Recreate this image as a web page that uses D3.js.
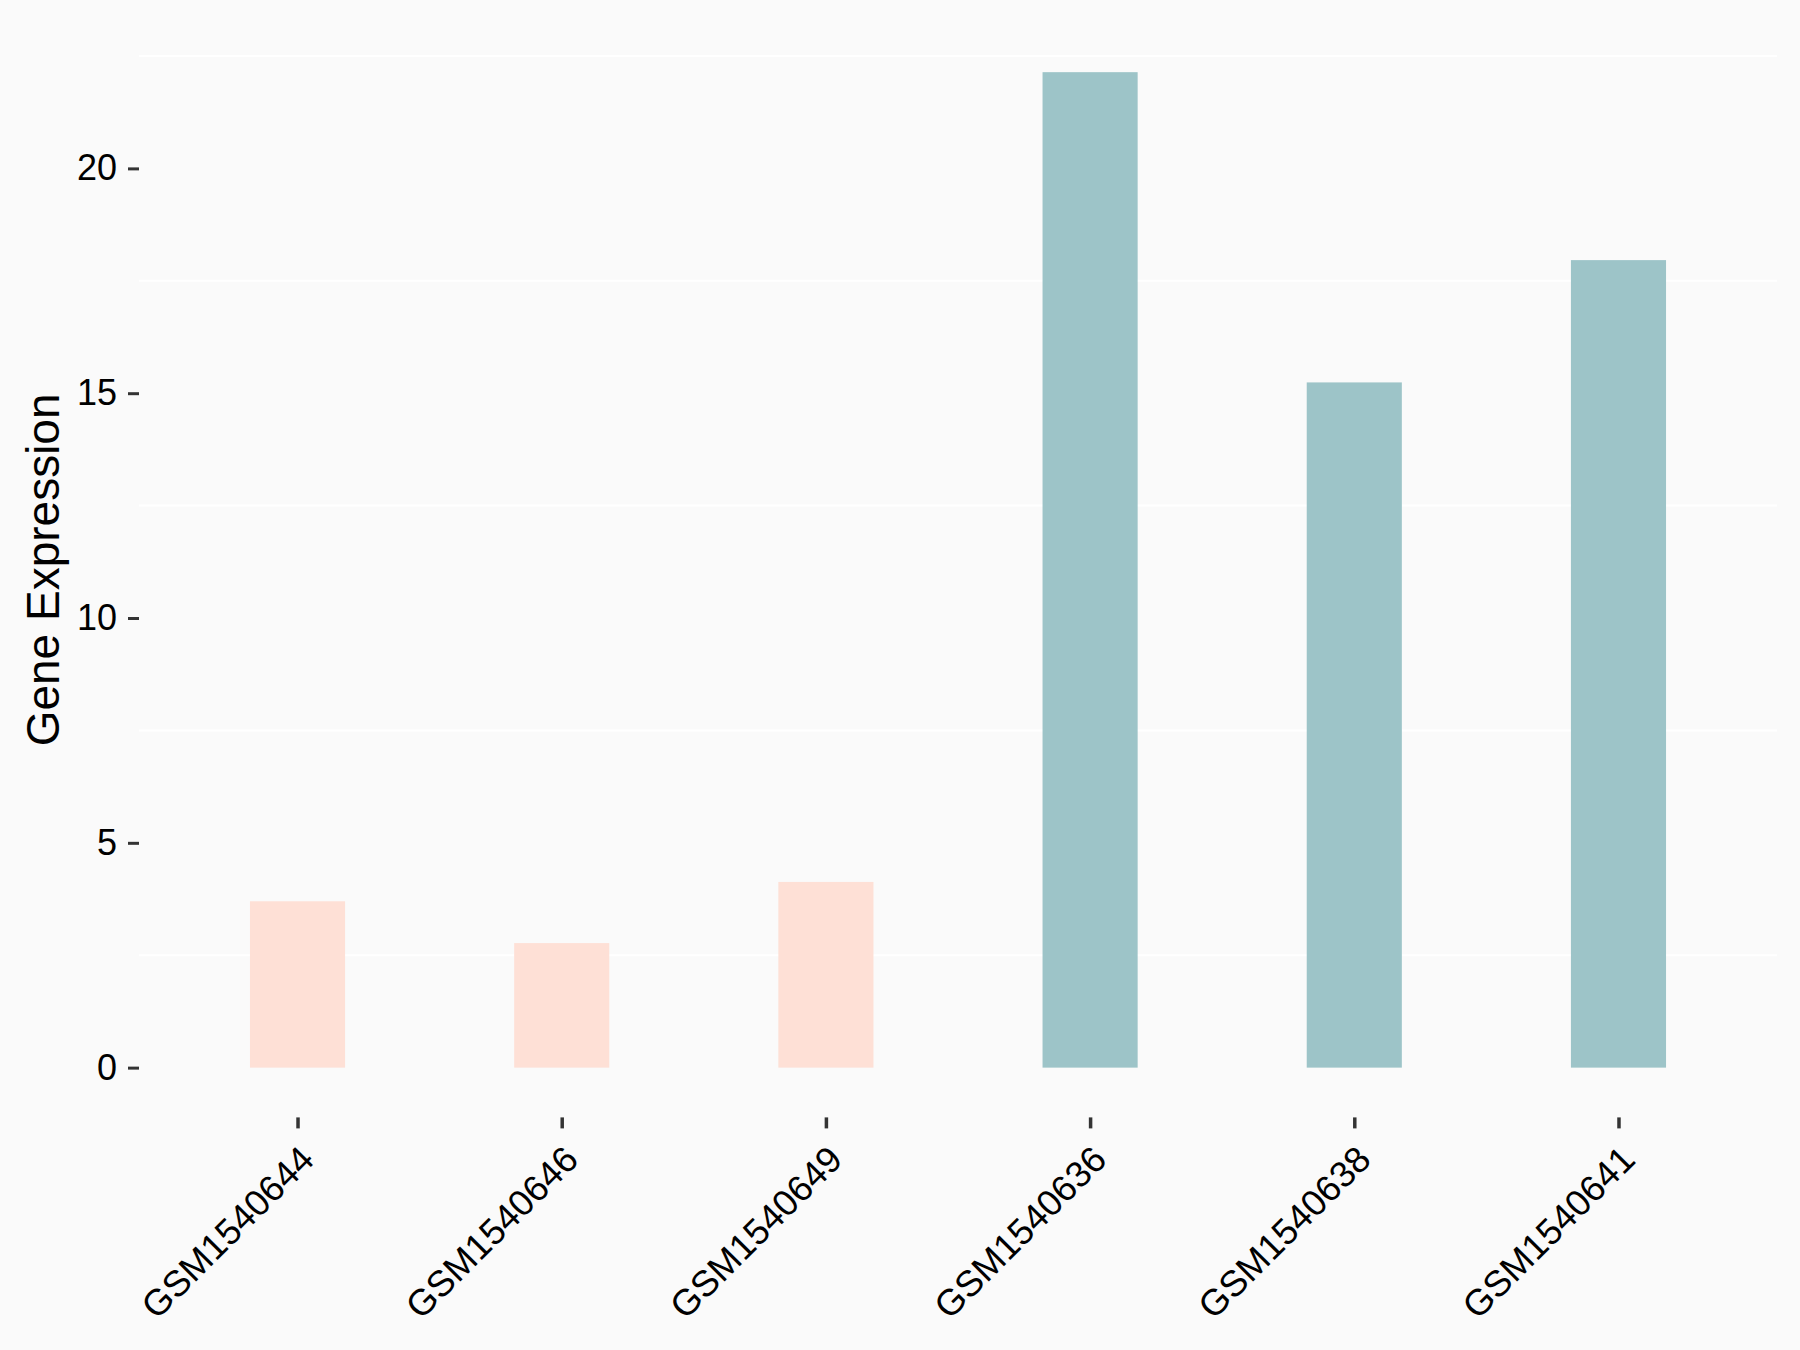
<!DOCTYPE html>
<html>
<head>
<meta charset="utf-8">
<script src="https://cdn.jsdelivr.net/npm/d3@7"></script>
<style>
  html, body { margin: 0; padding: 0; background: #FAFAFA; }
  svg { display: block; }
  text { font-family: "Liberation Sans", Arial, sans-serif; fill: #000; }
</style>
</head>
<body>
<svg id="chart" width="1800" height="1350"></svg>
<script>
const categories = ["GSM1540644", "GSM1540646", "GSM1540649", "GSM1540636", "GSM1540638", "GSM1540641"];
const values = [3.70, 2.77, 4.13, 22.14, 15.24, 17.96];
const groups = ["low", "low", "low", "high", "high", "high"];
const yTicks = [0, 5, 10, 15, 20];
const minorTicks = [2.5, 7.5, 12.5, 17.5, 22.5];
const groupColors = { low: "#FEE0D6", high: "#9DC4C8" };

const W = 1800, H = 1350;
const panel = { left: 139, right: 1777, top: 22.4, bottom: 1117.4 };

const svg = d3.select("#chart");
svg.append("rect").attr("width", W).attr("height", H).attr("fill", "#FAFAFA");

const ymax = d3.max(values);
const y = d3.scaleLinear()
  .domain([-0.05 * ymax, 1.05 * ymax])
  .range([panel.bottom, panel.top]);

const x = d3.scalePoint()
  .domain(categories)
  .range([panel.left, panel.right])
  .padding(0.6);
const barW = x.step() * 0.36;

// minor grid lines
svg.append("g").selectAll("line").data(minorTicks).join("line")
  .attr("x1", panel.left).attr("x2", panel.right)
  .attr("y1", d => y(d)).attr("y2", d => y(d))
  .attr("stroke", "#FFFFFF").attr("stroke-width", 2);

// bars
svg.append("g").selectAll("rect").data(categories).join("rect")
  .attr("x", d => x(d) - barW / 2)
  .attr("width", barW)
  .attr("y", (d, i) => y(values[i]))
  .attr("height", (d, i) => y(0) - y(values[i]))
  .attr("fill", (d, i) => groupColors[groups[i]]);

// y axis
const yAxis = d3.axisLeft(y).tickValues(yTicks).tickSize(11).tickPadding(11).tickFormat(d3.format("d"));
const gy = svg.append("g").attr("transform", `translate(${panel.left},0)`).call(yAxis);
gy.select(".domain").remove();
gy.selectAll(".tick line").attr("stroke", "#333333").attr("stroke-width", 3);
gy.selectAll(".tick text")
  .style("font-family", '"Liberation Sans", Arial, sans-serif')
  .style("font-size", "36px").attr("fill", "#000");

// x axis
const xAxis = d3.axisBottom(x).tickSize(11).tickFormat("");
const gx = svg.append("g").attr("transform", `translate(0,${panel.bottom})`).call(xAxis);
gx.select(".domain").remove();
gx.selectAll(".tick line").attr("stroke", "#333333").attr("stroke-width", 3.5);

svg.append("g").selectAll("text").data(categories).join("text")
  .attr("transform", d => `translate(${x(d)},1143) rotate(-45)`)
  .attr("text-anchor", "end")
  .attr("dy", "0.72em")
  .style("font-size", "36.5px")
  .text(d => d);

// y title
svg.append("text")
  .attr("transform", `translate(59,${(panel.top + panel.bottom) / 2}) rotate(-90)`)
  .attr("text-anchor", "middle")
  .style("font-size", "46px")
  .text("Gene Expression");
</script>
</body>
</html>
